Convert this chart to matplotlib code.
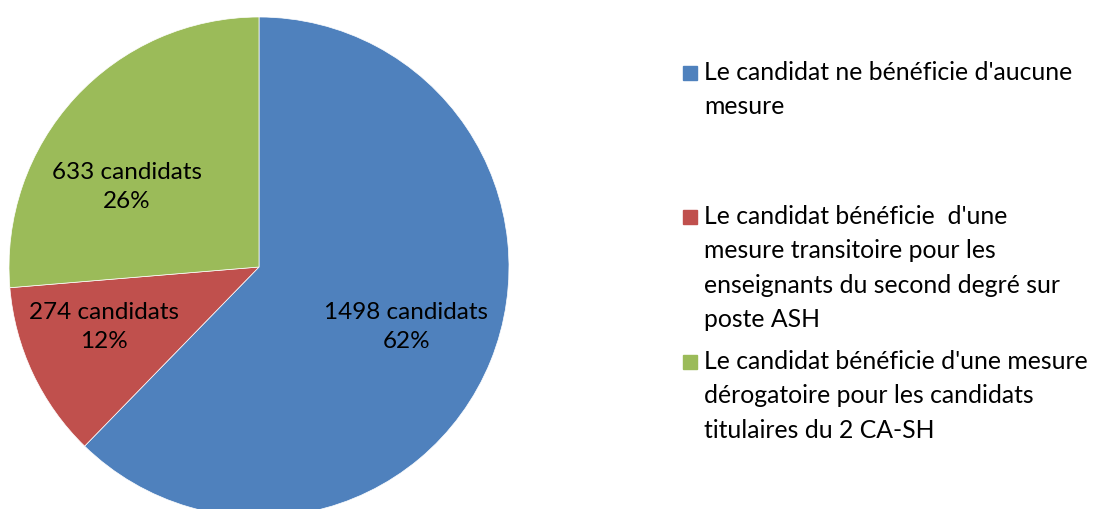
import matplotlib.pyplot as plt
from matplotlib.patches import Rectangle

plt.rcParams['font.family'] = ['Lato', 'DejaVu Sans']

# data
counts = [1498, 274, 633]
pct_labels = ['62%', '12%', '26%']
legend_labels = [
    "Le candidat ne bénéficie d'aucune\nmesure",
    "Le candidat bénéficie  d'une\nmesure transitoire pour les\nenseignants du second degré sur\nposte ASH",
    "Le candidat bénéficie d'une mesure\ndérogatoire pour les candidats\ntitulaires du 2 CA-SH",
]
colors = ['#4F81BD', '#C0504D', '#9BBB59']

W, H = 1093, 509
fig = plt.figure(figsize=(W / 100, H / 100), dpi=100)

# pie: centre (259, 267) px, radius 250 px
cx, cy, R = 259, 267, 250
ax = fig.add_axes([(cx - R) / W, (H - cy - R) / H, 2 * R / W, 2 * R / H])
wedges, _ = ax.pie(counts, colors=colors, startangle=90, counterclock=False,
                   wedgeprops=dict(linewidth=0.5, edgecolor='white'))
ax.set_xlim(-1, 1)
ax.set_ylim(-1, 1)
ax.set_aspect('auto')
for w in wedges:
    w.set_clip_on(False)

# label positions inside the pie (in radius units)
label_pos = [(0.59, -0.24), (-0.62, -0.24), (-0.53, 0.32)]
for (x, y), n, p in zip(label_pos, counts, pct_labels):
    ax.text(x, y, f"{n} candidats\n{p}", ha='center', va='center',
            fontsize=17.5, color='black', linespacing=1.5)

# legend drawn by hand
entry_top = [73, 217, 362]
for top, lab, col in zip(entry_top, legend_labels, colors):
    fig.patches.append(Rectangle((683 / W, (H - top - 7) / H), 14 / W, 14 / H,
                                 transform=fig.transFigure, color=col))
    fig.text(704 / W, (H - top + 12) / H, lab, ha='left', va='top',
             fontsize=17.8, color='black', linespacing=1.6)

fig.savefig('out.png', dpi=100)
